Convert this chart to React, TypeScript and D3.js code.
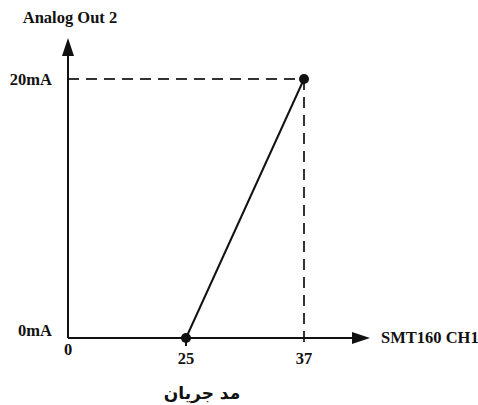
import React from "react";
import * as d3 from "d3";

const xCategories = ["0", "25", "37"];
const yTickLabels = ["0mA", "20mA"];
const yTickValues = [0, 20];
const lineX = ["25", "37"];
const lineY = [0, 20];
const xAxisTitle = "SMT160 CH1";
const yAxisTitle = "Analog Out 2";
const bottomCaption = "مد جریان";

export default function App() {
  const W = 478, H = 405;
  const x = d3.scalePoint<string>().domain(xCategories).range([68, 304]);
  const y = d3.scaleLinear().domain([0, 20]).range([338, 79]);
  const pts = lineX.map((c, i) => [x(c)!, y(lineY[i])] as [number, number]);
  const line = d3.line()(pts)!;
  const x0 = x("0")!, y0 = y(0);
  const serif = "'Liberation Serif', 'Times New Roman', serif";
  const dark = "#111";
  const dash = "#333";
  const topPt = pts[1];
  const fs = 16.5;
  return (
    <svg width={W} height={H} style={{ position: "absolute", left: 0, top: 0, background: "#fff" }}>
      {/* dashed guides */}
      <line x1={x0} y1={topPt[1]} x2={topPt[0]} y2={topPt[1]} stroke={dash} strokeWidth={2} strokeDasharray="11,7" />
      <line x1={topPt[0]} y1={topPt[1]} x2={topPt[0]} y2={y0 + 8} stroke={dash} strokeWidth={2} strokeDasharray="11,7" />
      {/* axes */}
      <line x1={x0} y1={y0} x2={356} y2={y0} stroke={dark} strokeWidth={2} />
      <path d={`M370,${y0} L352,${y0 - 6} L352,${y0 + 6} Z`} fill={dark} />
      <line x1={x0} y1={y0} x2={x0} y2={52} stroke={dark} strokeWidth={2} />
      <path d={`M${x0},38 L${x0 - 6},56 L${x0 + 6},56 Z`} fill={dark} />
      {/* tick mark under axis */}
      <line x1={x("25")} y1={y0} x2={x("25")} y2={y0 + 8} stroke={dark} strokeWidth={2} />
      {/* data line */}
      <path d={line} fill="none" stroke={dark} strokeWidth={2} />
      {pts.map((p, i) => (
        <circle key={i} cx={p[0]} cy={p[1]} r={5} fill={dark} />
      ))}
      {/* labels */}
      <text x={70} y={23} textAnchor="middle" fontFamily={serif} fontWeight="bold" fontSize={fs} fill={dark}>{yAxisTitle}</text>
      {yTickValues.map((v, i) => (
        <text key={v} x={52} y={y(v) + (v === 0 ? -2 : 6)} textAnchor="end" fontFamily={serif} fontWeight="bold" fontSize={fs} fill={dark}>{yTickLabels[i]}</text>
      ))}
      {xCategories.map((c) => (
        <text key={c} x={x(c)} y={c === "0" ? 355 : 364} textAnchor="middle" fontFamily={serif} fontWeight="bold" fontSize={fs} fill={dark}>{c}</text>
      ))}
      <text x={381} y={343} textAnchor="start" fontFamily={serif} fontWeight="bold" fontSize={fs} fill={dark}>{xAxisTitle}</text>
      <text x={202} y={399} textAnchor="middle" fontFamily="'DejaVu Sans', 'Noto Sans', sans-serif" fontWeight="bold" fontSize={17} fill={dark} direction="rtl">{bottomCaption}</text>
    </svg>
  );
}
